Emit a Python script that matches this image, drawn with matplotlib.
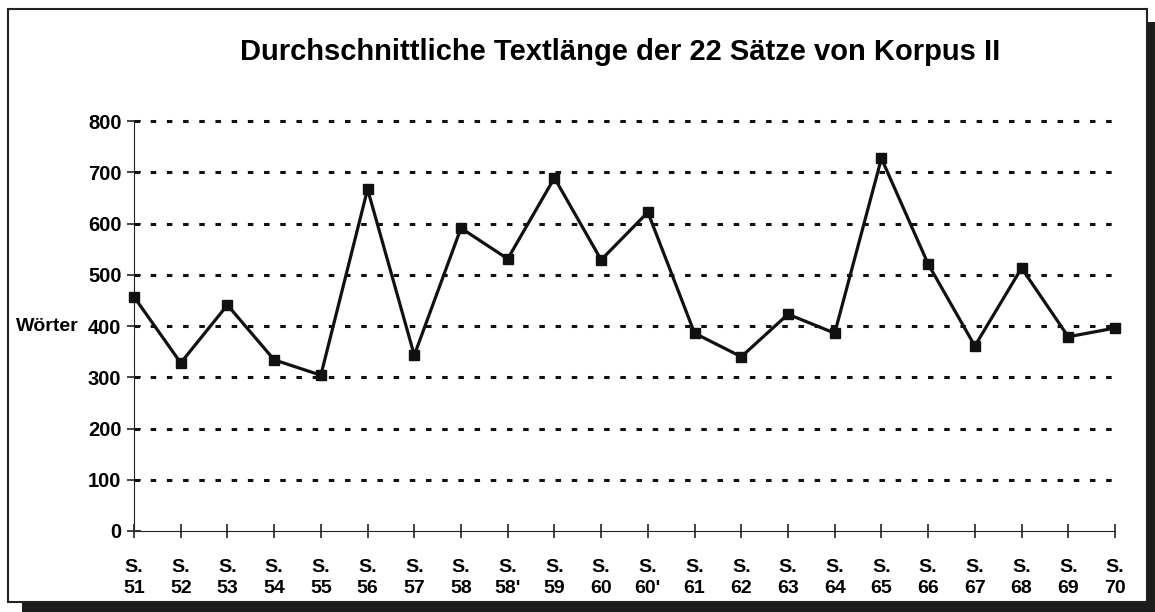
import matplotlib.pyplot as plt
from matplotlib.patches import Rectangle

# Average text length per sentence (Korpus II)
labels = ['51', '52', '53', '54', '55', '56', '57', '58', "58'", '59', '60',
          "60'", '61', '62', '63', '64', '65', '66', '67', '68', '69', '70']
words = [457, 328, 441, 334, 304, 667, 343, 591, 531, 689, 529,
         622, 386, 340, 423, 386, 727, 521, 361, 513, 379, 396]
yticks = [0, 100, 200, 300, 400, 500, 600, 700, 800]

plt.rcParams['font.family'] = ['Liberation Sans', 'DejaVu Sans']

W, H = 1155, 612
fig = plt.figure(figsize=(W / 100, H / 100), dpi=100)

# frame with drop shadow, kept behind the axes
fig.patches.append(Rectangle((22 / W, 1 - 612 / H), 1133 / W, 590 / H,
                             transform=fig.transFigure, facecolor='#1c1c1c',
                             edgecolor='none', zorder=-2))
fig.patches.append(Rectangle((8 / W, 1 - 602 / H), 1139 / W, 593 / H,
                             transform=fig.transFigure, facecolor='white',
                             edgecolor='#222222', linewidth=1.5, zorder=-1))

ax = fig.add_axes([134 / W, 1 - 531 / H, (1115 - 134) / W, (531 - 121) / H])
ax.set_facecolor('none')

x = list(range(len(words)))
ax.plot(x, words, color='#111111', linewidth=2.3, marker='s', markersize=7.5,
        markerfacecolor='#111111', markeredgecolor='#111111', clip_on=False, zorder=3)

ax.set_xlim(0, len(words) - 1)
ax.set_ylim(0, 800)
ax.set_yticks(yticks)
ax.set_yticklabels([str(v) for v in yticks], fontsize=14.5, fontweight='bold')
ax.set_xticks(x)
ax.set_xticklabels(['S.\n' + l for l in labels], fontsize=14, fontweight='bold',
                   linespacing=1.3)

for v in yticks[1:]:
    ax.axhline(v, color='#111111', linestyle=(0, (1.8, 3.5)), linewidth=2.2,
               zorder=2, clip_on=False)

for s in ['top', 'right']:
    ax.spines[s].set_visible(False)
ax.spines['left'].set_color('#222222')
ax.spines['bottom'].set_color('#222222')
ax.tick_params(axis='both', direction='inout', length=10, width=1.2, color='#222222')
ax.tick_params(axis='x', pad=15)
ax.tick_params(axis='y', pad=4)

ax.text(-0.056, 400, 'Wörter', transform=ax.get_yaxis_transform(), ha='right',
        va='center', fontsize=14, fontweight='bold')

fig.text(620 / W, 1 - 52 / H, 'Durchschnittliche Textlänge der 22 Sätze von Korpus II',
         ha='center', va='center', fontsize=21, fontweight='bold')

fig.savefig('out.png', dpi=100)
